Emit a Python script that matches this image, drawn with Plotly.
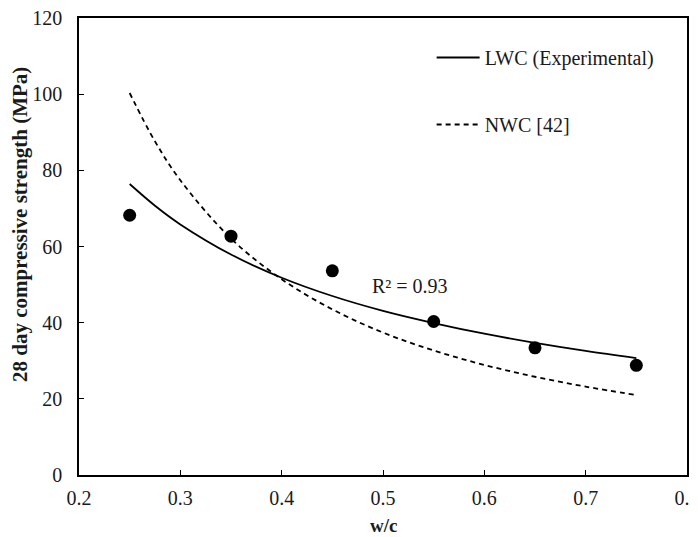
import plotly.graph_objects as go

# Experimental data
wc_points = [0.25, 0.35, 0.45, 0.55, 0.65, 0.75]
strength_points = [68.2, 62.7, 53.6, 40.3, 33.4, 28.8]

# Curves
wc_curve = [0.25, 0.275, 0.30, 0.35, 0.40, 0.45, 0.50, 0.55, 0.60, 0.65, 0.70, 0.75]
lwc_curve = [76.4, 70.7, 65.8, 57.9, 51.8, 47.0, 43.1, 39.9, 37.1, 34.7, 32.6, 30.7]
nwc_curve = [100.3, 87.6, 77.4, 62.1, 51.4, 43.5, 37.4, 32.7, 28.9, 25.8, 23.2, 21.0]

x_ticks = [0.2, 0.3, 0.4, 0.5, 0.6, 0.7, 0.8]
x_tick_text = ["0.2", "0.3", "0.4", "0.5", "0.6", "0.7", "0.8"]
y_ticks = [0, 20, 40, 60, 80, 100, 120]

FONT = "Liberation Serif, Times New Roman, serif"
TXT = "#1a1a1a"

W, H = 690, 529
L, R, T, B = 71, 11, 10, 62
PH = H - T - B

fig = go.Figure()
fig.add_trace(go.Scatter(x=wc_curve, y=lwc_curve, mode="lines",
                         line=dict(color="black", width=1.8, shape="spline"),
                         name="LWC (Experimental)", legendgroup="a"))
fig.add_trace(go.Scatter(x=wc_curve, y=nwc_curve, mode="lines",
                         line=dict(color="black", width=1.8, dash="5px,4px", shape="spline"),
                         name="NWC [42]", legendgroup="b"))
fig.add_trace(go.Scatter(x=wc_points, y=strength_points, mode="markers",
                         marker=dict(color="black", size=13), showlegend=False))

fig.add_annotation(x=0.527, y=49.7, text="R² = 0.93", showarrow=False, xref="x", yref="y",
                   font=dict(family=FONT, size=20, color=TXT))
# axis titles
fig.add_annotation(x=0, y=(PH - 207) / PH, xref="paper", yref="paper", xshift=-59,
                   text="<b>28 day compressive strength (MPa)</b>", textangle=-90,
                   showarrow=False, xanchor="center", yanchor="middle",
                   font=dict(family=FONT, size=21, color=TXT))
fig.add_annotation(x=0.5, y=-50 / PH, xref="paper", yref="paper",
                   text="<b>w/c</b>", showarrow=False, xanchor="center", yanchor="middle",
                   font=dict(family=FONT, size=19, color=TXT))

fig.update_layout(
    width=W, height=H,
    margin=dict(l=L, r=R, t=T, b=B),
    paper_bgcolor="white", plot_bgcolor="white",
    font=dict(family=FONT, size=20, color=TXT),
    legend=dict(x=0.58, y=(PH - 20) / PH, xanchor="left", yanchor="top", tracegroupgap=38, itemwidth=43,
                font=dict(family=FONT, size=20, color=TXT), bgcolor="rgba(0,0,0,0)"),
    showlegend=True,
)
fig.update_xaxes(range=[0.2, 0.8], tickvals=x_ticks, ticktext=x_tick_text, ticks="inside", ticklen=5,
                 tickcolor="black", showline=True, linecolor="black", linewidth=1.5, mirror=True,
                 showgrid=False, zeroline=False, automargin=False, ticklabelstandoff=4,
                 ticklabeloverflow="allow",
                 tickfont=dict(family=FONT, size=20, color=TXT))
fig.update_yaxes(range=[0, 120], tickvals=y_ticks, ticks="inside", ticklen=5,
                 tickcolor="black", showline=True, linecolor="black", linewidth=1.5, mirror=True,
                 showgrid=False, zeroline=False, automargin=False, ticklabelstandoff=11,
                 ticklabeloverflow="allow",
                 tickfont=dict(family=FONT, size=20, color=TXT))

fig.write_html("out.html")
